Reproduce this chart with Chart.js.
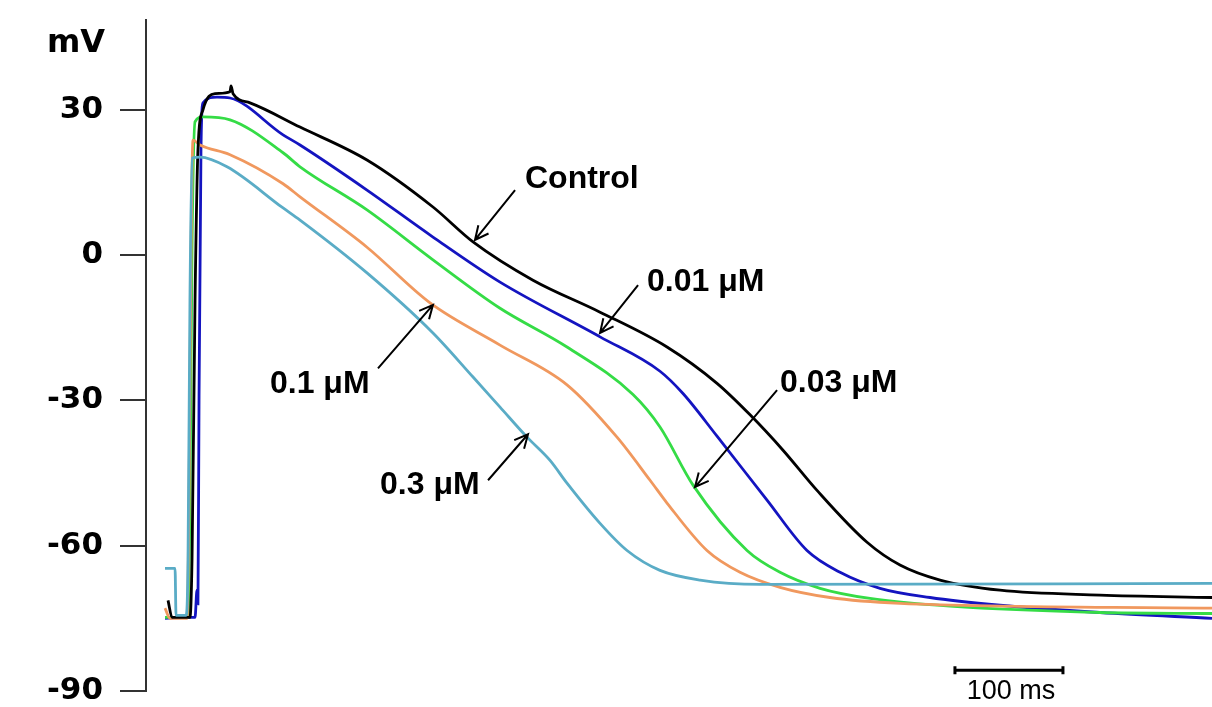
<!DOCTYPE html>
<html>
<head>
<meta charset="utf-8">
<script src="https://cdn.jsdelivr.net/npm/chart.js@4.4.1/dist/chart.umd.min.js"></script>
<style>
  html, body { margin: 0; padding: 0; background: #fff; }
  canvas { display: block; }
</style>
</head>
<body>
<canvas id="ap-chart" width="1212" height="707"></canvas>
<script>
// time in ms, membrane potential in mV
const timeControl = [20.4, 24.1, 40.7, 42.6, 45.4, 48.1, 52.8, 63.9, 77.8, 78.7, 80.6, 96.3, 142.6, 204.6, 265.7, 302.8, 358.3, 420.4, 482.4, 528.7, 559.3, 589.8, 621.3, 667.6, 698.1, 735.2, 790.7, 883.3, 987];
const mvControl   = [-71.3, -74.8, -74.8, -63.0, -9.3, 21.7, 30.0, 33.3, 33.7, 34.9, 33.3, 31.4, 26.4, 19.6, 9.9, 2.7, -5.2, -11.8, -19.0, -26.5, -33.0, -40.3, -48.6, -59.3, -64.0, -67.1, -69.2, -70.2, -70.7];

const time001 = [17.6, 40.7, 45.4, 47.2, 48.1, 49.1, 50.9, 52.8, 65.7, 77.8, 126.9, 142.6, 204.6, 265.7, 327.8, 420.4, 475.9, 497.2, 528.7, 575.0, 612.0, 642.6, 679.6, 725.9, 790.7, 883.3, 987];
const mv001   = [-75.0, -74.8, -74.8, -69.2, -72.0, -30.0, 21.7, 31.4, 32.6, 32.4, 24.8, 22.7, 13.4, 3.7, -5.6, -16.9, -24.0, -28.6, -37.4, -50.6, -61.0, -65.5, -68.8, -70.7, -72.3, -73.8, -75.0];

const time003 = [17.6, 38.9, 40.7, 42.6, 45.4, 52.8, 77.8, 126.9, 142.6, 204.6, 265.7, 327.8, 389.8, 450.9, 475.9, 506.5, 556.5, 587.0, 624.1, 670.4, 744.4, 883.3, 987];
const mv003   = [-74.8, -74.8, -50.6, 1.0, 27.5, 28.5, 27.9, 21.1, 18.2, 9.3, -1.0, -11.0, -19.0, -28.8, -35.5, -47.5, -61.0, -65.5, -68.8, -70.9, -72.5, -73.8, -74.0];

const time01 = [17.6, 22.2, 38.0, 39.8, 41.7, 43.5, 50.0, 77.8, 126.9, 142.6, 204.6, 263.0, 327.8, 389.8, 436.1, 466.7, 482.4, 519.4, 550.0, 587.0, 633.3, 698.1, 987];
const mv01   = [-72.9, -75.0, -75.0, -50.6, 1.0, 23.7, 22.7, 20.7, 14.7, 12.0, 1.6, -9.9, -18.6, -26.8, -37.6, -46.5, -51.2, -61.0, -65.5, -68.6, -70.7, -71.9, -72.9];

const time03 = [17.6, 26.9, 27.8, 37.0, 38.9, 40.7, 42.6, 50.0, 75.0, 126.9, 142.6, 204.6, 265.7, 302.8, 327.8, 352.8, 374.1, 389.8, 420.4, 445.4, 475.9, 513.0, 568.5, 987];
const mv03   = [-64.7, -64.7, -74.4, -74.4, -63.0, -9.3, 20.0, 20.2, 18.2, 9.7, 7.2, -3.7, -16.1, -25.2, -31.4, -37.6, -42.4, -47.1, -55.4, -61.0, -65.1, -67.1, -68.0, -67.8];

const yTicks = [-90, -60, -30, 0, 30];

// labels + arrows, in data units [ms, mV]
const notes = [
  { text: 'Control', at: [350.9, 15.7],  from: [341.7, 13.4],  to: [304.6, 3.1] },
  { text: '0.01 μM', at: [463.9, -5.6],  from: [455.6, -6.2],  to: [420.4, -16.1] },
  { text: '0.03 μM', at: [587.0, -26.4], from: [584.3, -27.9], to: [508.3, -47.9] },
  { text: '0.1 μM',  at: [114.8, -26.6], from: [214.8, -23.4], to: [265.7, -10.3] },
  { text: '0.3 μM',  at: [216.7, -47.5], from: [316.7, -46.5], to: [353.7, -37.0] }
];
const scaleBar = { start: 749, length: 100, mv: -85.7, label: '100 ms' };

function toPoints(ts, vs) {
  return ts.map((t, i) => ({ x: t, y: vs[i] }));
}

const annotate = {
  id: 'annotate',
  afterDatasetsDraw(chart) {
    const ctx = chart.ctx;
    const xs = chart.scales.x, ys = chart.scales.y;
    const px = p => [xs.getPixelForValue(p[0]), ys.getPixelForValue(p[1])];
    ctx.save();

    // mV unit above the axis
    ctx.fillStyle = '#000';
    ctx.font = 'bold 32px "DejaVu Sans"';
    ctx.textAlign = 'right';
    ctx.textBaseline = 'middle';
    ctx.fillText('mV', chart.chartArea.left - 41, chart.chartArea.top + 24);

    ctx.strokeStyle = '#000';
    ctx.lineWidth = 2;
    ctx.font = 'bold 32px "Liberation Sans", Arial';
    ctx.textAlign = 'left';
    notes.forEach(n => {
      const [tx, ty] = px(n.at);
      ctx.fillText(n.text, tx, ty);
      const [x1, y1] = px(n.from);
      const [x2, y2] = px(n.to);
      ctx.beginPath();
      ctx.moveTo(x1, y1);
      ctx.lineTo(x2, y2);
      const ang = Math.atan2(y2 - y1, x2 - x1);
      const head = 15;
      ctx.moveTo(x2 - head * Math.cos(ang - 0.45), y2 - head * Math.sin(ang - 0.45));
      ctx.lineTo(x2, y2);
      ctx.lineTo(x2 - head * Math.cos(ang + 0.45), y2 - head * Math.sin(ang + 0.45));
      ctx.stroke();
    });

    // 100 ms scale bar
    const [bx1, by] = px([scaleBar.start, scaleBar.mv]);
    const [bx2] = px([scaleBar.start + scaleBar.length, scaleBar.mv]);
    ctx.lineWidth = 3;
    ctx.beginPath();
    ctx.moveTo(bx1, by); ctx.lineTo(bx2, by);
    ctx.moveTo(bx1, by - 4); ctx.lineTo(bx1, by + 4);
    ctx.moveTo(bx2, by - 4); ctx.lineTo(bx2, by + 4);
    ctx.stroke();
    ctx.font = '27px "Liberation Sans", Arial';
    ctx.textAlign = 'center';
    ctx.fillText(scaleBar.label, (bx1 + bx2) / 2 + 2, by + 21);
    ctx.restore();
  }
};

const lineStyle = { pointRadius: 0, borderWidth: 2.8, fill: false, cubicInterpolationMode: 'monotone' };

new Chart(document.querySelector('#ap-chart').getContext('2d'), {
  type: 'line',
  data: {
    datasets: [
      { label: '0.3 μM', data: toPoints(time03, mv03), borderColor: '#5aacc6', order: 0, ...lineStyle },
      { label: 'Control', data: toPoints(timeControl, mvControl), borderColor: '#000000', order: 1, ...lineStyle },
      { label: '0.1 μM', data: toPoints(time01, mv01), borderColor: '#f0985e', order: 2, ...lineStyle },
      { label: '0.03 μM', data: toPoints(time003, mv003), borderColor: '#35dc46', order: 3, ...lineStyle },
      { label: '0.01 μM', data: toPoints(time001, mv001), borderColor: '#1414c0', order: 4, ...lineStyle }
    ]
  },
  options: {
    responsive: false,
    animation: false,
    layout: { padding: { top: 20, bottom: 16, left: 0, right: 0 } },
    plugins: { legend: { display: false }, tooltip: { enabled: false } },
    scales: {
      x: { type: 'linear', min: 0, max: 987, display: false },
      y: {
        type: 'linear',
        min: -90,
        max: 48.5,
        afterBuildTicks(scale) { scale.ticks = yTicks.map(v => ({ value: v })); },
        afterFit(scale) {
          scale.width = 146;
          scale.paddingTop = 0;
          scale.paddingBottom = 0;
        },
        border: { display: true, color: '#333', width: 2 },
        grid: { drawOnChartArea: false, drawTicks: true, tickLength: 26, color: '#333', lineWidth: 2 },
        ticks: {
          color: '#000',
          padding: 17,
          font: { family: 'DejaVu Sans', size: 31, weight: 'bold', lineHeight: 1 }
        }
      }
    }
  },
  plugins: [annotate]
});
</script>
</body>
</html>
